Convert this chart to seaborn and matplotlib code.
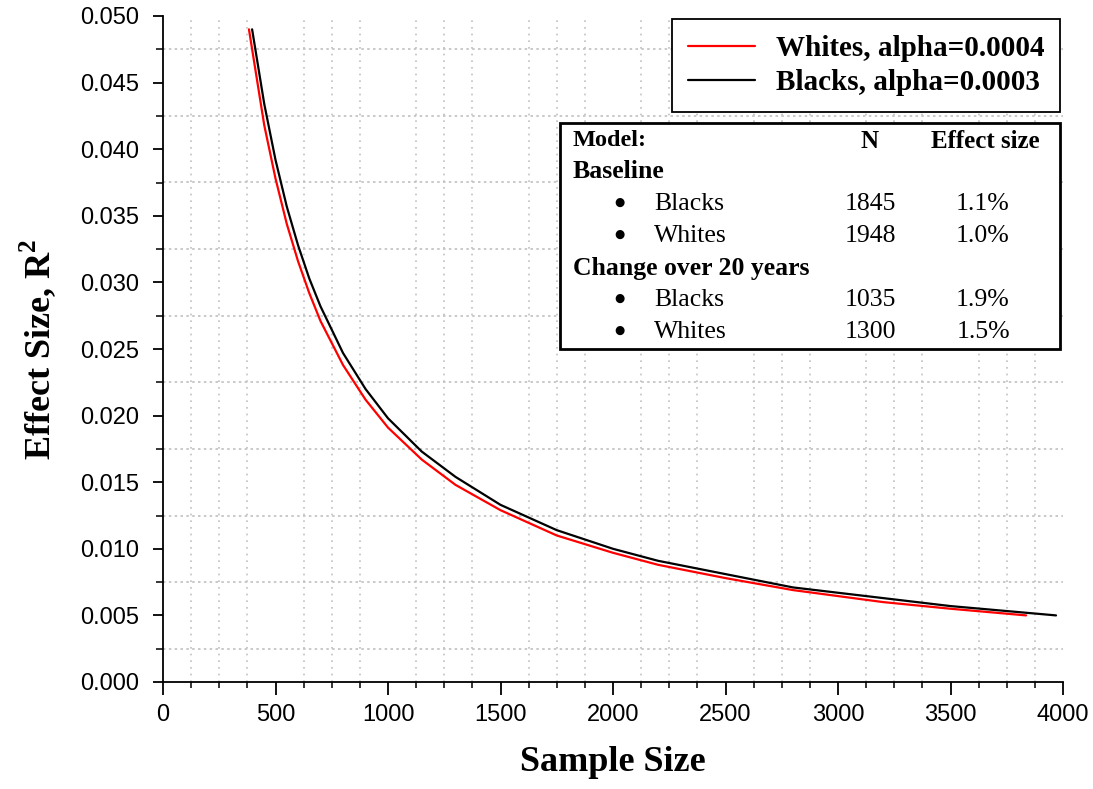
import pandas as pd
import matplotlib.pyplot as plt
import seaborn as sns
from matplotlib.ticker import MultipleLocator, FormatStrFormatter
from matplotlib.patches import Rectangle

# Curve values
whites_n = [382, 450, 500, 550, 600, 650, 700, 800, 900, 1000, 1150, 1300, 1500,
            1750, 2000, 2200, 2500, 2800, 3200, 3500, 3836]
whites_r2 = [0.0490, 0.0418, 0.0378, 0.0344, 0.0316, 0.0292, 0.0271, 0.0238, 0.0212,
             0.0191, 0.0167, 0.0148, 0.0129, 0.0110, 0.0097, 0.0088, 0.0078, 0.0069,
             0.0060, 0.0055, 0.0050]
blacks_n = [396, 450, 500, 550, 600, 650, 700, 800, 900, 1000, 1150, 1300, 1500,
            1750, 2000, 2200, 2500, 2800, 3200, 3500, 3969]
blacks_r2 = [0.0490, 0.0434, 0.0392, 0.0357, 0.0328, 0.0303, 0.0282, 0.0247, 0.0220,
             0.0198, 0.0173, 0.0154, 0.0133, 0.0114, 0.0100, 0.0091, 0.0081, 0.0071,
             0.0063, 0.0057, 0.0050]
series_labels = ["Whites, alpha=0.0004", "Blacks, alpha=0.0003"]
series_colors = ["#ff0000", "#000000"]

# Inset table
table_header = ["Model:", "N", "Effect size"]
table_groups = ["Baseline", "Change over 20 years"]
table_rows = [["Blacks", "Whites"], ["Blacks", "Whites"]]
table_n = [["1845", "1948"], ["1035", "1300"]]
table_effect = [["1.1%", "1.0%"], ["1.9%", "1.5%"]]

df = pd.concat([
    pd.DataFrame({"n": whites_n, "r2": whites_r2, "group": series_labels[0]}),
    pd.DataFrame({"n": blacks_n, "r2": blacks_r2, "group": series_labels[1]}),
])

sns.set_style("white")
plt.rcParams["font.family"] = ["Liberation Sans", "DejaVu Sans"]
plt.rcParams["text.color"] = "black"
plt.rcParams["axes.labelcolor"] = "black"
plt.rcParams["xtick.color"] = "black"
plt.rcParams["ytick.color"] = "black"
plt.rcParams["mathtext.fontset"] = "custom"
plt.rcParams["mathtext.bf"] = "Liberation Serif:bold"

W, H = 1093, 789
fig = plt.figure(figsize=(W / 100, H / 100), dpi=100)
ax = fig.add_axes([163 / W, 1 - 682 / H, 900 / W, 666 / H])

sns.lineplot(data=df, x="n", y="r2", hue="group", hue_order=series_labels,
             palette=dict(zip(series_labels, series_colors)), sort=False,
             estimator=None, linewidth=1.6, ax=ax)

ax.set_xlim(0, 4000)
ax.set_ylim(0, 0.05)
ax.xaxis.set_major_locator(MultipleLocator(500))
ax.xaxis.set_minor_locator(MultipleLocator(125))
ax.yaxis.set_major_locator(MultipleLocator(0.005))
ax.yaxis.set_minor_locator(MultipleLocator(0.0025))
ax.yaxis.set_major_formatter(FormatStrFormatter("%.3f"))

# dotted grid only on the minor positions
for x in range(125, 4000, 125):
    if x % 500:
        ax.axvline(x, color="#c0c0c0", lw=1.2, ls=(0, (1, 3)), zorder=0)
for k in range(10):
    ax.axhline(0.0025 + k * 0.005, color="#c0c0c0", lw=1.2, ls=(0, (1.5, 2)), zorder=0)

for s in ["top", "right"]:
    ax.spines[s].set_visible(False)
for s in ["left", "bottom"]:
    ax.spines[s].set_color("black")
    ax.spines[s].set_linewidth(1.3)

ax.tick_params(axis="x", which="major", direction="out", length=9, width=1.3,
               labelsize=17, pad=7, bottom=True)
ax.tick_params(axis="x", which="minor", direction="out", length=4, width=1.1,
               bottom=True)
ax.tick_params(axis="y", which="major", direction="out", length=7, width=1.3,
               labelsize=17, pad=10, left=True)
ax.tick_params(axis="y", which="minor", direction="out", length=5, width=1.1,
               left=True)

serif_bold = {"family": ["Liberation Serif", "DejaVu Serif"], "weight": "bold"}
ax.set_xlabel("Sample Size", fontdict=serif_bold, fontsize=26, labelpad=14)
ax.set_ylabel("Effect Size, R$^\\mathbf{2}$", fontdict=serif_bold, fontsize=26, labelpad=16)

leg = ax.legend(loc="upper right", bbox_to_anchor=(1.0, 1.0), borderaxespad=0.1,
                prop={"family": "Liberation Serif", "weight": "bold", "size": 21},
                frameon=True, fancybox=False, edgecolor="black", framealpha=1,
                handlelength=2.3, labelspacing=0.25, borderpad=0.55, handletextpad=0.7)
leg.get_frame().set_linewidth(1.3)
for line in leg.get_lines():
    line.set_linewidth(1.6)


def fx(px):
    return px / W


def fy(py):
    return 1 - py / H


fig.add_artist(Rectangle((fx(560), fy(349)), fx(1060) - fx(560), fy(123) - fy(349),
                         transform=fig.transFigure, facecolor="white",
                         edgecolor="black", lw=2, zorder=5))

serif = ["Liberation Serif", "DejaVu Serif"]
txt = dict(transform=fig.transFigure, va="center", zorder=6)
fig.text(fx(573), fy(140), table_header[0], ha="left", fontsize=17.5, weight="bold",
         family=serif, **txt)
fig.text(fx(870), fy(142), table_header[1], ha="center", fontsize=18, weight="bold",
         family=serif, **txt)
fig.text(fx(985), fy(142), table_header[2], ha="center", fontsize=18, weight="bold",
         family=serif, **txt)

y = 172
for g, group in enumerate(table_groups):
    fig.text(fx(573), fy(y), group, ha="left", fontsize=18.5, weight="bold",
             family=serif, **txt)
    y += 32
    for r, name in enumerate(table_rows[g]):
        fig.text(fx(619), fy(y - 2), "\u25cf", ha="center", fontsize=8.5,
                 family="DejaVu Sans", **txt)
        fig.text(fx(654), fy(y), name, ha="left", fontsize=18.5, family=serif, **txt)
        fig.text(fx(870), fy(y), table_n[g][r], ha="center", fontsize=18.5,
                 family=serif, **txt)
        fig.text(fx(983), fy(y), table_effect[g][r], ha="center", fontsize=18.5,
                 family=serif, **txt)
        y += 32

fig.savefig("out.png", dpi=100)
